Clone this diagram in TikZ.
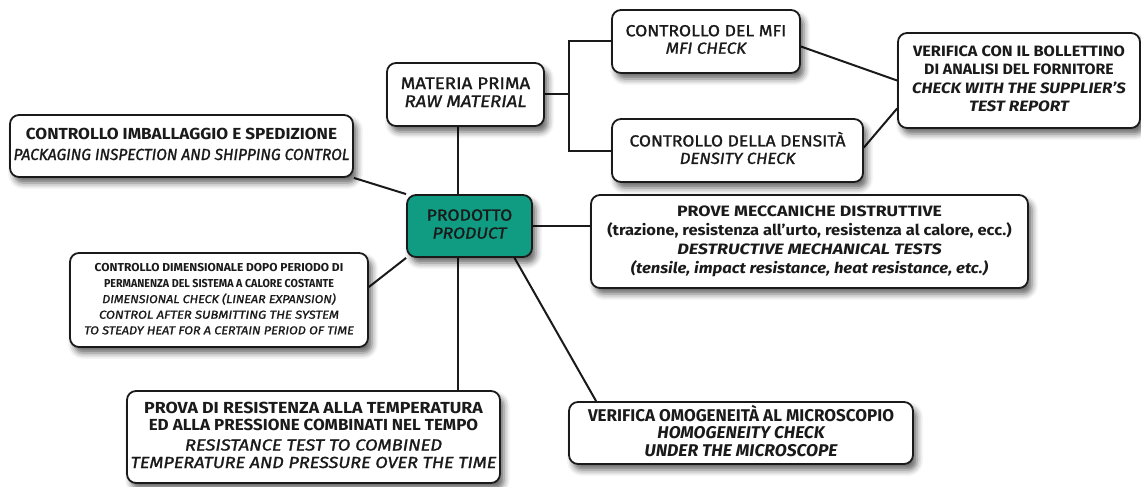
\documentclass[tikz,border=0pt]{standalone}
\usepackage{fontspec}
\setmainfont{Fira Sans}[UprightFeatures={FakeBold=1.3},ItalicFeatures={FakeBold=1.3}]
\usepackage{graphicx}
\usetikzlibrary{shadows.blur,backgrounds}
\definecolor{tealfill}{HTML}{109C82}
\definecolor{ink}{HTML}{1A1A1A}
\newcommand\boxtext[3]{\fontsize{#1}{#2}\selectfont\begin{tabular}{@{}c@{}}#3\end{tabular}}
\newcommand\sx[2]{\scalebox{#1}[1]{#2}}
\begin{document}
\begin{tikzpicture}[x=1pt,y=-1pt,
  box/.style={draw=ink, line width=1.8pt, rounded corners=9pt, fill=white,
    text=ink, inner sep=0pt, align=center,
    blur shadow={shadow xshift=4pt, shadow yshift=-6pt, shadow blur radius=6pt, shadow opacity=60}},
  link/.style={draw=ink, line width=2pt}]
\useasboundingbox (0,0) rectangle (1141,487);

\node[box, minimum width=157pt, minimum height=63pt] (mat) at (465.5,94.5)
  {\boxtext{17}{18}{\sx{1.1}{MATERIA PRIMA}\\\sx{1.1}{\itshape RAW MATERIAL}}};
\node[box, minimum width=188pt, minimum height=63pt] (mfi) at (706,41.5)
  {\boxtext{16}{17.5}{\sx{1.1}{CONTROLLO DEL MFI}\\\sx{1.07}{\itshape MFI CHECK}}};
\node[box, minimum width=251pt, minimum height=63pt] (dens) at (737.5,150.5)
  {\boxtext{16}{17.5}{\sx{1.09}{CONTROLLO DELLA DENSITÀ}\\\sx{1.05}{\itshape DENSITY CHECK}}};
\node[box, minimum width=242pt, minimum height=95pt] (ver) at (1019,80.5)
  {\boxtext{15}{18.5}{\sx{1.09}{\bfseries VERIFICA CON IL BOLLETTINO}\\\sx{1.06}{\bfseries DI ANALISI DEL FORNITORE}\\\sx{1.12}{\bfseries\itshape CHECK WITH THE SUPPLIER’S}\\\sx{1.14}{\bfseries\itshape TEST REPORT}}};
\node[box, minimum width=343pt, minimum height=62pt] (imb) at (181.5,146)
  {\boxtext{16}{20}{\sx{1.07}{\bfseries CONTROLLO IMBALLAGGIO E SPEDIZIONE}\\\sx{0.97}{\itshape PACKAGING INSPECTION AND SHIPPING CONTROL}}};
\node[box, fill=tealfill, minimum width=125pt, minimum height=62pt] (prod) at (469.5,226)
  {\boxtext{16}{18}{\sx{1.1}{PRODOTTO}\\\sx{1.1}{\itshape PRODUCT}}};
\node[box, minimum width=437pt, minimum height=93pt] (prove) at (809.5,241.5)
  {\boxtext{15}{19}{\sx{1.18}{\bfseries PROVE MECCANICHE DISTRUTTIVE}\\\sx{1.1}{\bfseries (trazione, resistenza all’urto, resistenza al calore, ecc.)}\\\sx{1.2}{\bfseries\itshape DESTRUCTIVE MECHANICAL TESTS}\\\sx{1.11}{\bfseries\itshape (tensile, impact resistance, heat resistance, etc.)}}};
\node[box, minimum width=298pt, minimum height=94pt] (dim) at (219,300)
  {\boxtext{11.5}{15.6}{\sx{1.04}{\bfseries CONTROLLO DIMENSIONALE DOPO PERIODO DI}\\\sx{0.93}{\bfseries PERMANENZA DEL SISTEMA A CALORE COSTANTE}\\\sx{1.09}{\itshape DIMENSIONAL CHECK (LINEAR EXPANSION)}\\\sx{1.13}{\itshape CONTROL AFTER SUBMITTING THE SYSTEM}\\\sx{1.1}{\itshape TO STEADY HEAT FOR A CERTAIN PERIOD OF TIME}}};
\node[box, minimum width=373pt, minimum height=92pt] (prova) at (313.5,437)
  {\boxtext{16}{17.5}{\sx{1.11}{\bfseries PROVA DI RESISTENZA ALLA TEMPERATURA}\\\sx{1.06}{\bfseries ED ALLA PRESSIONE COMBINATI NEL TEMPO}\\[2.5pt]\sx{1.15}{\itshape RESISTANCE TEST TO COMBINED}\\\sx{1.13}{\itshape TEMPERATURE AND PRESSURE OVER THE TIME}}};
\node[box, minimum width=344pt, minimum height=62pt] (omog) at (741,433)
  {\boxtext{17}{17.5}{\sx{1.0}{\bfseries VERIFICA OMOGENEITÀ AL MICROSCOPIO}\\\sx{1.02}{\bfseries\itshape HOMOGENEITY CHECK}\\\sx{1.03}{\bfseries\itshape UNDER THE MICROSCOPE}}};

\begin{pgfonlayer}{background}
\draw[link] (mat.east) -- ++(24,0) coordinate (br);
\draw[link] (mfi.west) -| (br) |- (dens.west);
\draw[link] ([xshift=-12pt]prod.north) -- ([xshift=-12pt]prod.north |- mat.south);
\draw[link] ([xshift=-12pt]prod.south) -- ([xshift=-12pt]prod.south |- prova.north);
\draw[link] (prod.east) -- (prod.east -| prove.west);
\draw[link] ([yshift=-5pt]mfi.east) -- (ver.west);
\draw[link] ([yshift=3pt]dens.east) -- ([yshift=-28pt]ver.west);
\draw[link] (imb.south east) -- (prod.north west);
\draw[link] ([yshift=13pt]dim.east) -- (prod.south west);
\draw[link] ([xshift=45pt]prod.south) -- ([xshift=28pt]omog.north west);
\end{pgfonlayer}
\end{tikzpicture}
\end{document}
